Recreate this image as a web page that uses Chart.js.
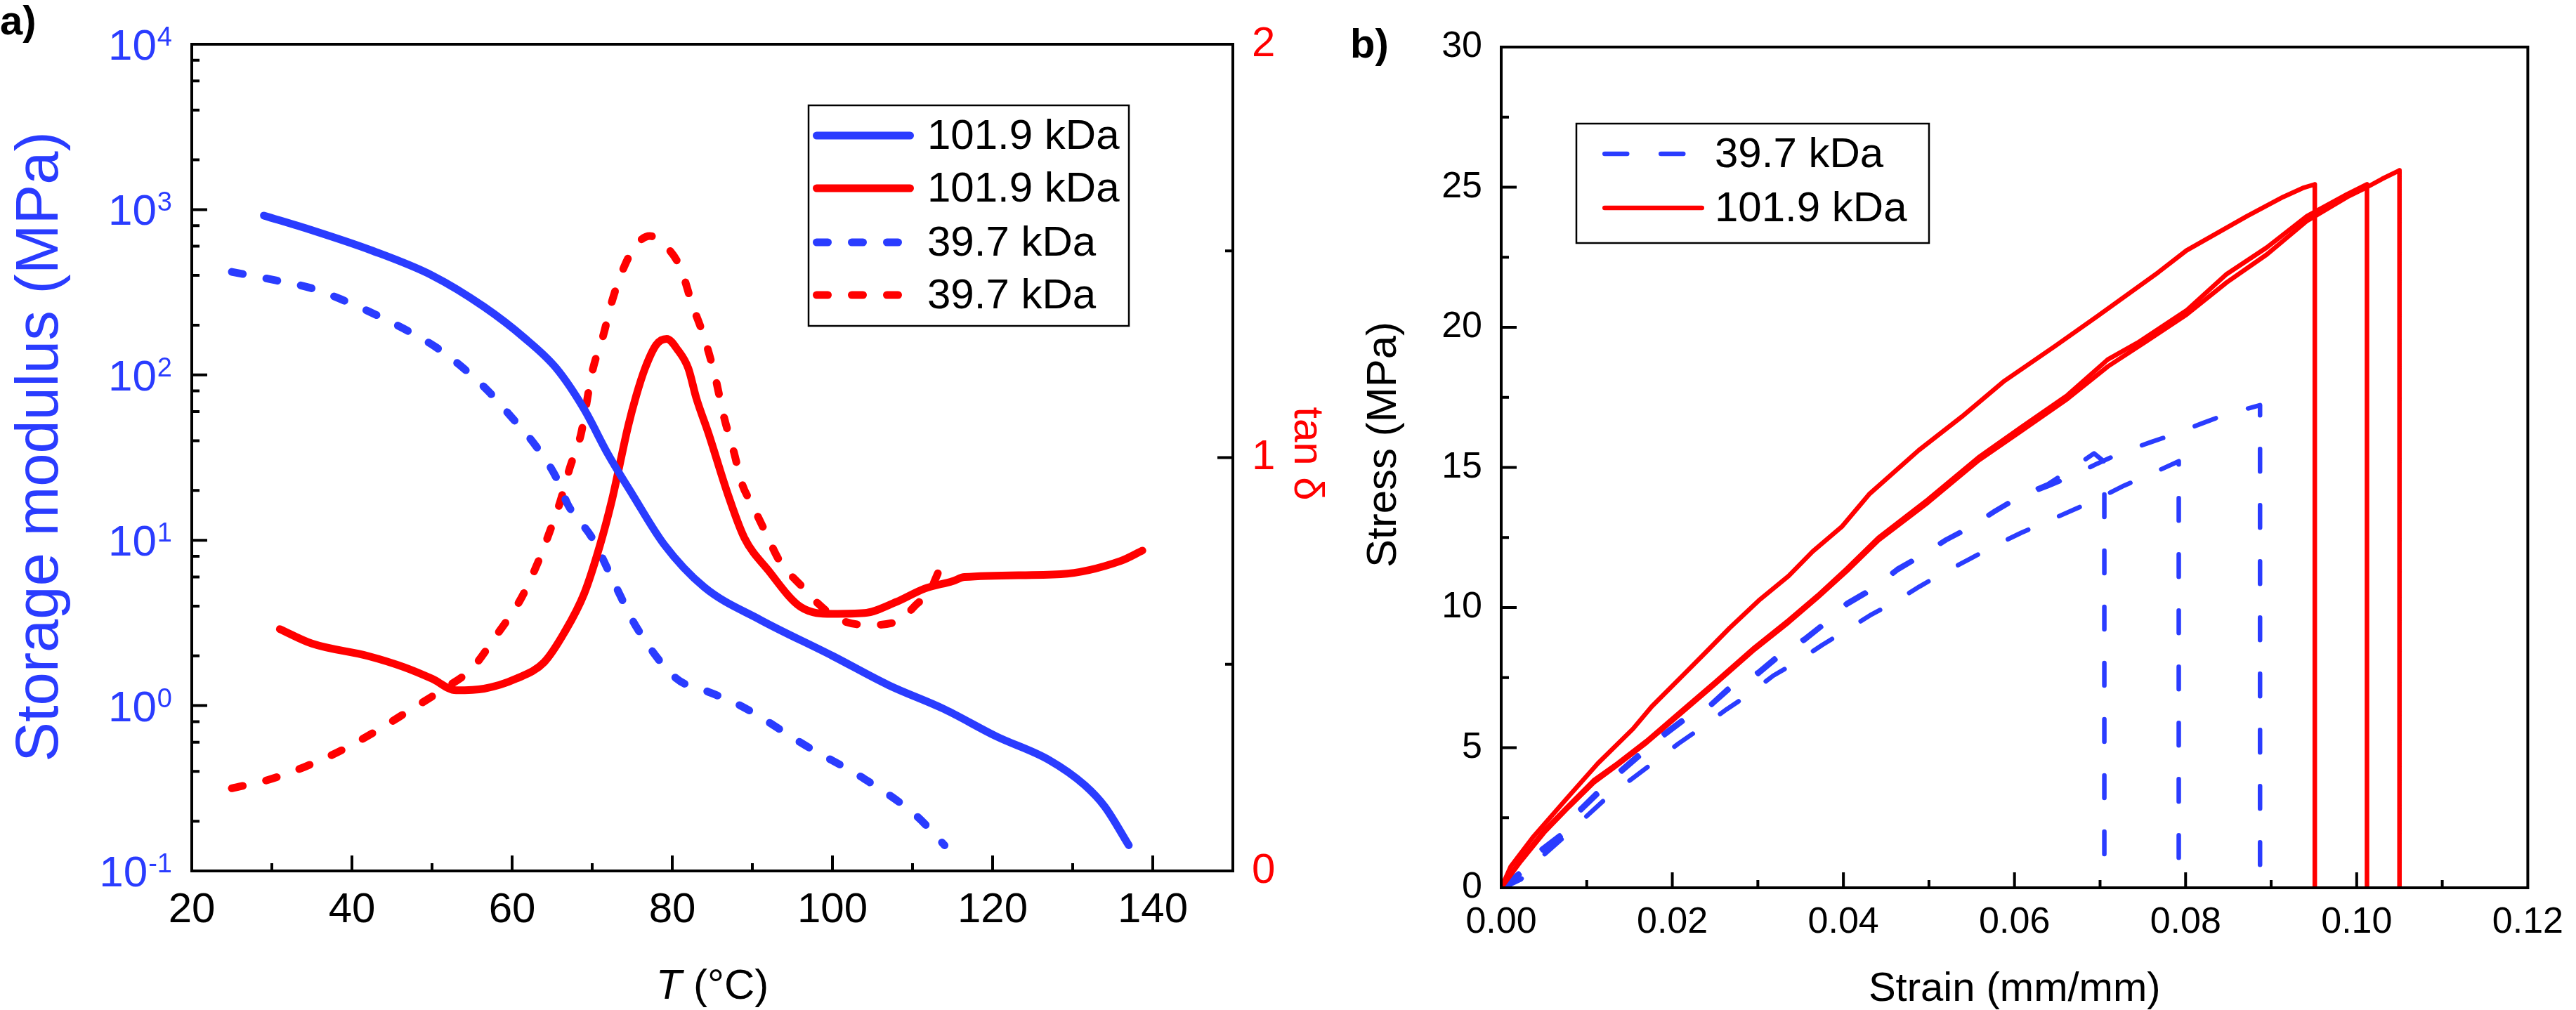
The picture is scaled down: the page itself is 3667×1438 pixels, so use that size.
<!DOCTYPE html>
<html>
<head>
<meta charset="utf-8">
<script src="https://cdn.jsdelivr.net/npm/chart.js@4.4.1/dist/chart.umd.min.js"></script>
<style>
  html, body { margin: 0; padding: 0; background: #fff; }
  #wrap { position: relative; width: 3667px; height: 1438px; }
  #chartA { position: absolute; left: 0; top: 0; }
  #chartB { position: absolute; left: 1900px; top: 0; }
</style>
</head>
<body>
<div id="wrap">
  <canvas id="chartA" width="1900" height="1438"></canvas>
  <canvas id="chartB" width="1767" height="1438"></canvas>
</div>
<script>
// ---- panel a: DMA ----
const storage101T = [29, 35, 42.5, 50, 56.5, 61.5, 65.5, 69, 72, 75, 79, 84, 91, 100, 107, 114, 120.5, 127, 131.5, 134, 137];
const storage101  = [920, 750, 565, 400, 258, 168, 110, 62, 33, 19, 9.4, 5.2, 3.3, 2.0, 1.33, 0.95, 0.65, 0.47, 0.33, 0.245, 0.143];

const storage39T = [25, 30.5, 35, 39, 43, 46.5, 50.5, 54, 57, 60, 63, 65.5, 67, 70, 73, 75.5, 80.5, 84, 88.5, 97, 104, 110.5, 114];
const storage39  = [420, 373, 334, 282, 231, 190, 147, 109, 80, 55, 37, 24, 16.3, 10.3, 5.2, 3.0, 1.46, 1.24, 1.0, 0.56, 0.36, 0.215, 0.143];

const tan101T = [31, 35, 42, 46.5, 50, 53, 56.5, 60.5, 64, 66.5, 69, 71, 72.5, 74.5, 75.5, 76.6, 78, 79.3, 80.7, 82, 83, 84.5, 87, 89, 92, 96, 100, 104, 108, 111.5, 115, 116.5, 128.5, 136, 138.7];
const tan101  = [0.585, 0.55, 0.52, 0.493, 0.465, 0.437, 0.441, 0.465, 0.505, 0.576, 0.671, 0.79, 0.9, 1.077, 1.15, 1.216, 1.273, 1.287, 1.26, 1.216, 1.144, 1.06, 0.908, 0.806, 0.727, 0.639, 0.622, 0.624, 0.651, 0.683, 0.701, 0.711, 0.718, 0.75, 0.775];

const tan39T = [25, 29.5, 34, 38.5, 43, 47, 51.5, 55, 58, 61, 63.3, 65, 66, 67.2, 68.6, 70, 71.4, 72.5, 74, 75.5, 77.2, 79, 81, 82.5, 84, 85.3, 86.5, 87.7, 88.7, 90, 91.6, 93.4, 96.3, 98.2, 100.6, 104.4, 108.2, 110.6, 112, 113.5, 114];
const tan39  = [0.2, 0.22, 0.251, 0.29, 0.338, 0.386, 0.441, 0.49, 0.569, 0.655, 0.75, 0.837, 0.893, 0.975, 1.057, 1.207, 1.297, 1.38, 1.462, 1.515, 1.536, 1.515, 1.46, 1.37, 1.29, 1.2, 1.095, 1.013, 0.937, 0.885, 0.821, 0.75, 0.686, 0.647, 0.611, 0.595, 0.604, 0.647, 0.671, 0.734, 0.75];

const tempTicks = [20, 40, 60, 80, 100, 120, 140];
const modulusTicks = [0.1, 1, 10, 100, 1000, 10000];
const modulusExponents = ['-1', '0', '1', '2', '3', '4'];
const tanTicks = [0, 1, 2];

// ---- panel b: tensile ----
const strainA = [0, .0011, .0037, .0077, .0113, .0154, .0176, .0213, .0239, .0267, .0301, .0336, .0364, .0398, .043, .0488, .0538, .0587, .0647, .0697, .0768, .0801, .0872, .0914, .0937, .0951, .0951];
const stressA = [0, .75, 1.8, 3.2, 4.44, 5.67, 6.47, 7.6, 8.4, 9.27, 10.25, 11.13, 12.0, 12.88, 14.04, 15.61, 16.8, 18.06, 19.32, 20.4, 21.96, 22.74, 23.97, 24.65, 24.97, 25.1, 0];

const strainB = [0, .0023, .0051, .0079, .0108, .0136, .017, .021, .025, .0296, .0336, .037, .0404, .0441, .0499, .0558, .0608, .0662, .0709, .0744, .0801, .0848, .0895, .0942, .0989, .1012, .1012];
const stressB = [0, 1.0, 2.07, 2.94, 3.83, 4.44, 5.24, 6.29, 7.34, 8.57, 9.55, 10.43, 11.39, 12.49, 13.86, 15.36, 16.44, 17.58, 18.85, 19.45, 20.6, 21.9, 22.85, 23.97, 24.75, 25.1, 0];

const strainC = [0, .0023, .0051, .0079, .0108, .0136, .017, .021, .025, .0296, .0336, .037, .0404, .0441, .0499, .0558, .0608, .0662, .0709, .0754, .0801, .0848, .0895, .0942, .0989, .1012, .103, .105, .105];
const stressC = [0, .95, 2.0, 2.88, 3.75, 4.38, 5.18, 6.22, 7.27, 8.5, 9.47, 10.36, 11.3, 12.4, 13.75, 15.25, 16.3, 17.45, 18.6, 19.5, 20.45, 21.6, 22.6, 23.8, 24.65, 25.0, 25.3, 25.6, 0];

const strainD = [0, .0021, .0045, .0073, .0091, .0113, .0139, .0162, .019, .0215, .0245, .0269, .03, .0326, .0354, .038, .0404, .0436, .0463, .0489, .052, .0548, .0577, .0606, .0639, .0664, .0693, .0705, .0705];
const stressD = [0, .53, 1.33, 1.98, 2.77, 3.43, 4.18, 4.79, 5.5, 6.07, 6.55, 7.22, 7.69, 8.35, 8.88, 9.5, 10.16, 10.73, 11.38, 11.83, 12.43, 12.88, 13.45, 13.98, 14.4, 14.9, 15.5, 15.2, 0];

const strainE = [0, .0006, .0023, .0049, .0073, .01, .0125, .0152, .0179, .0207, .0234, .0264, .0288, .0318, .0345, .0375, .0404, .0431, .046, .0489, .0514, .0548, .0577, .0608, .0637, .067, .0699, .0728, .0759, .0792, .0792];
const stressE = [0, .05, .3, 1.15, 1.8, 2.56, 3.26, 3.87, 4.49, 5.14, 5.71, 6.38, 6.87, 7.57, 8.05, 8.66, 9.2, 9.72, 10.2, 10.75, 11.19, 11.74, 12.21, 12.67, 13.06, 13.5, 13.9, 14.35, 14.76, 15.22, 0];

const strainF = [0, .0021, .0045, .0073, .0091, .0113, .0139, .0162, .019, .0215, .0245, .0269, .03, .0326, .0354, .038, .0404, .0436, .0463, .0489, .052, .0548, .0577, .0606, .0639, .0664, .0697, .0726, .0759, .0788, .0819, .0848, .0887, .0887];
const stressF = [0, .45, 1.25, 1.9, 2.7, 3.35, 4.1, 4.7, 5.42, 6.0, 6.5, 7.15, 7.62, 8.28, 8.82, 9.45, 10.1, 10.68, 11.33, 11.8, 12.4, 12.85, 13.42, 13.95, 14.33, 14.65, 15.14, 15.54, 15.9, 16.2, 16.57, 16.9, 17.22, 0];

const strainTicks = [0, 0.02, 0.04, 0.06, 0.08, 0.10, 0.12];
const strainTickLabels = ['0.00', '0.02', '0.04', '0.06', '0.08', '0.10', '0.12'];
const stressTicks = [0, 5, 10, 15, 20, 25, 30];

const BLUE = '#2a3cff';
const RED = '#ff0000';
const FONT = '"Liberation Sans", Arial, Helvetica, sans-serif';
const DASH_A = [16, 34];
const DASH_B = [32, 48];
const OX = 1900; // left of canvas b

Chart.defaults.font.family = FONT;

function pts(xs, ys) {
    return xs.map((x, i) => ({x: x, y: ys[i]}));
}

function text(ctx, str, x, y, font, color, align, rot) {
    ctx.save();
    ctx.font = font;
    ctx.fillStyle = color || '#000';
    ctx.textAlign = align || 'left';
    ctx.textBaseline = 'alphabetic';
    ctx.translate(x, y);
    if (rot) ctx.rotate(rot);
    ctx.fillText(str, 0, 0);
    ctx.restore();
}

// box round the plot area
function drawFrame(chart) {
    const a = chart.chartArea, ctx = chart.ctx;
    ctx.save();
    ctx.strokeStyle = '#000';
    ctx.lineWidth = 4;
    ctx.strokeRect(a.left, a.top, a.right - a.left, a.bottom - a.top);
    ctx.restore();
}

// inward tick marks
function drawTicks(chart, id, values, len, side) {
    const s = chart.scales[id], a = chart.chartArea, ctx = chart.ctx;
    ctx.save();
    ctx.strokeStyle = '#000';
    ctx.lineWidth = 4;
    ctx.beginPath();
    values.forEach(v => {
        const p = s.getPixelForValue(v);
        if (side === 'bottom') { ctx.moveTo(p, a.bottom); ctx.lineTo(p, a.bottom - len); }
        if (side === 'left')   { ctx.moveTo(a.left, p);   ctx.lineTo(a.left + len, p); }
        if (side === 'right')  { ctx.moveTo(a.right, p);  ctx.lineTo(a.right - len, p); }
    });
    ctx.stroke();
    ctx.restore();
}

// 10^n labels for the log axis, exponent raised and smaller
function drawPowerLabels(chart) {
    const s = chart.scales.y, ctx = chart.ctx;
    const right = chart.chartArea.left - 28;
    ctx.save();
    ctx.fillStyle = BLUE;
    ctx.textBaseline = 'alphabetic';
    modulusTicks.forEach((v, i) => {
        const p = s.getPixelForValue(v);
        ctx.font = '38px ' + FONT;
        const we = ctx.measureText(modulusExponents[i]).width;
        ctx.textAlign = 'right';
        ctx.fillText(modulusExponents[i], right, p + 2);
        ctx.font = '62px ' + FONT;
        ctx.fillText('10', right - we - 1, p + 22);
    });
    ctx.restore();
}

function drawLegend(ctx, box, rows, sx0, sx1, tx, items) {
    ctx.save();
    ctx.fillStyle = '#fff';
    ctx.fillRect(box[0], box[1], box[2] - box[0], box[3] - box[1]);
    ctx.strokeStyle = '#000';
    ctx.lineWidth = 2.5;
    ctx.strokeRect(box[0], box[1], box[2] - box[0], box[3] - box[1]);
    items.forEach((d, i) => {
        const w = d.borderWidth;
        ctx.strokeStyle = d.borderColor;
        ctx.lineWidth = w;
        ctx.lineCap = 'round';
        ctx.setLineDash(d.borderDash || []);
        ctx.beginPath();
        ctx.moveTo(sx0 + w / 2, rows[i]);
        ctx.lineTo(sx1 - w / 2, rows[i]);
        ctx.stroke();
        ctx.setLineDash([]);
        ctx.fillStyle = '#000';
        ctx.font = '60px ' + FONT;
        ctx.textBaseline = 'middle';
        ctx.fillText(d.label, tx, rows[i] + 2);
    });
    ctx.restore();
}

const panelA = {
    id: 'panelA',
    afterDraw(chart) {
        const ctx = chart.ctx;
        drawFrame(chart);
        drawTicks(chart, 'x', [40, 60, 80, 100, 120, 140], 22, 'bottom');
        drawTicks(chart, 'x', [30, 50, 70, 90, 110, 130], 11, 'bottom');
        drawTicks(chart, 'y', [1, 10, 100, 1000], 22, 'left');
        const minor = [];
        modulusTicks.slice(0, 5).forEach(d => [2, 4, 6, 8].forEach(m => minor.push(d * m)));
        drawTicks(chart, 'y', minor, 11, 'left');
        drawTicks(chart, 'y1', [1], 22, 'right');
        drawTicks(chart, 'y1', [0.5, 1.5], 11, 'right');
        drawPowerLabels(chart);

        const ds = chart.data.datasets;
        drawLegend(ctx, [1151, 150, 1607, 464], [193, 268, 345, 420], 1157, 1301, 1320, ds);

        text(ctx, 'Storage modulus (MPa)', 82, 636, '85px ' + FONT, BLUE, 'center', -Math.PI / 2);
        text(ctx, 'tan \u03B4', 1843, 646, '60px ' + FONT, RED, 'center', Math.PI / 2);

        // T (°C) with italic T
        ctx.save();
        const fi = 'italic 60px ' + FONT, fr = '60px ' + FONT;
        ctx.font = fi; const w1 = ctx.measureText('T').width;
        ctx.font = fr; const w2 = ctx.measureText(' (\u00B0C)').width;
        const x0 = (chart.chartArea.left + chart.chartArea.right) / 2 - (w1 + w2) / 2;
        ctx.restore();
        text(ctx, 'T', x0, 1422, fi, '#000');
        text(ctx, ' (\u00B0C)', x0 + w1, 1422, fr, '#000');

        text(ctx, 'a)', 0, 49, 'bold 58px ' + FONT, '#000');
    }
};

const panelB = {
    id: 'panelB',
    afterDraw(chart) {
        const ctx = chart.ctx;
        drawFrame(chart);
        drawTicks(chart, 'x', [0.02, 0.04, 0.06, 0.08, 0.10], 22, 'bottom');
        drawTicks(chart, 'x', [0.01, 0.03, 0.05, 0.07, 0.09, 0.11], 11, 'bottom');
        drawTicks(chart, 'y', [5, 10, 15, 20, 25], 22, 'left');
        drawTicks(chart, 'y', [2.5, 7.5, 12.5, 17.5, 22.5, 27.5], 11, 'left');

        const ds = chart.data.datasets;
        drawLegend(ctx, [2244 - OX, 176, 2746 - OX, 346], [219, 296], 2281 - OX, 2426 - OX, 2441 - OX, [ds[3], ds[0]]);

        text(ctx, 'Stress (MPa)', 1987 - OX, 633, '60px ' + FONT, '#000', 'center', -Math.PI / 2);
        text(ctx, 'Strain (mm/mm)', (chart.chartArea.left + chart.chartArea.right) / 2, 1425, '58px ' + FONT, '#000', 'center');
        text(ctx, 'b)', 1922 - OX, 82, 'bold 58px ' + FONT, '#000');
    }
};

const lineA = {showLine: true, pointRadius: 0, borderWidth: 11, borderCapStyle: 'round', borderJoinStyle: 'round', cubicInterpolationMode: 'monotone', fill: false};
const lineB = {showLine: true, pointRadius: 0, borderWidth: 6.5, borderCapStyle: 'round', borderJoinStyle: 'round', tension: 0, fill: false};

const chartA = new Chart(document.getElementById('chartA'), {
    type: 'scatter',
    data: {
        datasets: [
            Object.assign({}, lineA, {label: '101.9 kDa', data: pts(storage101T, storage101), yAxisID: 'y', borderColor: BLUE, borderDash: []}),
            Object.assign({}, lineA, {label: '101.9 kDa', data: pts(tan101T, tan101), yAxisID: 'y1', borderColor: RED, borderDash: []}),
            Object.assign({}, lineA, {label: '39.7 kDa', data: pts(storage39T, storage39), yAxisID: 'y', borderColor: BLUE, borderDash: DASH_A}),
            Object.assign({}, lineA, {label: '39.7 kDa', data: pts(tan39T, tan39), yAxisID: 'y1', borderColor: RED, borderDash: DASH_A})
        ]
    },
    options: {
        responsive: false,
        animation: false,
        devicePixelRatio: 1,
        layout: {padding: {top: 51, left: 0, right: 0, bottom: 0}},
        plugins: {legend: {display: false}, tooltip: {enabled: false}},
        scales: {
            x: {
                type: 'linear', position: 'bottom', min: 20, max: 150,
                afterBuildTicks: s => { s.ticks = tempTicks.map(v => ({value: v})); },
                afterFit: s => { s.height = 198; },
                grid: {display: false, drawTicks: false}, border: {display: false},
                ticks: {color: '#000', font: {size: 60}, padding: 20, maxRotation: 0}
            },
            y: {
                type: 'logarithmic', position: 'left', min: 0.1, max: 10000,
                afterBuildTicks: s => { s.ticks = modulusTicks.map(v => ({value: v})); },
                afterFit: s => { s.width = 273; },
                grid: {display: false, drawTicks: false}, border: {display: false},
                ticks: {display: false}
            },
            y1: {
                type: 'linear', position: 'right', min: 0, max: 2,
                afterBuildTicks: s => { s.ticks = tanTicks.map(v => ({value: v})); },
                afterFit: s => { s.width = 145; },
                grid: {display: false, drawTicks: false}, border: {display: false},
                ticks: {color: RED, font: {size: 60}, padding: 27}
            }
        }
    },
    plugins: [panelA]
});

const chartB = new Chart(document.getElementById('chartB'), {
    type: 'scatter',
    data: {
        datasets: [
            Object.assign({}, lineB, {label: '101.9 kDa', data: pts(strainA, stressA), borderColor: RED, borderDash: []}),
            Object.assign({}, lineB, {label: '101.9 kDa', data: pts(strainB, stressB), borderColor: RED, borderDash: []}),
            Object.assign({}, lineB, {label: '101.9 kDa', data: pts(strainC, stressC), borderColor: RED, borderDash: []}),
            Object.assign({}, lineB, {label: '39.7 kDa', data: pts(strainF, stressF), borderColor: BLUE, borderDash: DASH_B}),
            Object.assign({}, lineB, {label: '39.7 kDa', data: pts(strainD, stressD), borderColor: BLUE, borderDash: DASH_B}),
            Object.assign({}, lineB, {label: '39.7 kDa', data: pts(strainE, stressE), borderColor: BLUE, borderDash: DASH_B})
        ]
    },
    options: {
        responsive: false,
        animation: false,
        devicePixelRatio: 1,
        layout: {padding: {top: 67, left: 0, right: 49, bottom: 0}},
        plugins: {legend: {display: false}, tooltip: {enabled: false}},
        scales: {
            x: {
                type: 'linear', position: 'bottom', min: 0, max: 0.12,
                afterBuildTicks: s => { s.ticks = strainTicks.map(v => ({value: v})); },
                afterFit: s => { s.height = 174; },
                grid: {display: false, drawTicks: false}, border: {display: false},
                ticks: {color: '#000', font: {size: 52}, padding: 18, maxRotation: 0, callback: (v, i) => strainTickLabels[i]}
            },
            y: {
                type: 'linear', position: 'left', min: 0, max: 30,
                afterBuildTicks: s => { s.ticks = stressTicks.map(v => ({value: v})); },
                afterFit: s => { s.width = 237; },
                grid: {display: false, drawTicks: false}, border: {display: false},
                ticks: {color: '#000', font: {size: 52}, padding: 27}
            }
        }
    },
    plugins: [panelB]
});
</script>
</body>
</html>
